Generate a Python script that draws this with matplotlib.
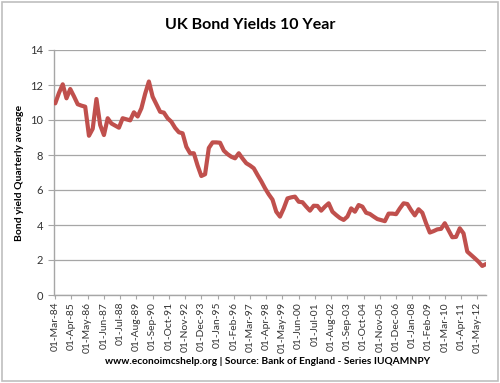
import matplotlib
matplotlib.use("Agg")
import matplotlib.pyplot as plt
from matplotlib.patches import Rectangle

plt.rcParams['font.family'] = ['Lato', 'DejaVu Sans']

# Quarterly average 10-year bond yield, Mar-1984 .. Dec-2012 (one value per quarter)
yields = [
    10.95, 11.55, 12.04, 11.24, 11.77, 11.35, 10.90, 10.82, 10.76, 9.10,
    9.50, 11.20, 9.71, 9.14, 10.10, 9.80, 9.68, 9.56, 10.10, 10.04,
    9.98, 10.44, 10.20, 10.67, 11.50, 12.20, 11.33, 10.90, 10.47, 10.42,
    10.10, 9.90, 9.55, 9.30, 9.24, 8.47, 8.10, 8.10, 7.40, 6.80,
    6.90, 8.40, 8.72, 8.72, 8.70, 8.25, 8.05, 7.90, 7.81, 8.10,
    7.80, 7.53, 7.40, 7.24, 6.86, 6.50, 6.10, 5.75, 5.45, 4.76,
    4.48, 4.95, 5.52, 5.58, 5.62, 5.33, 5.30, 5.05, 4.82, 5.10,
    5.09, 4.82, 5.05, 5.24, 4.76, 4.57, 4.40, 4.29, 4.48, 4.95,
    4.76, 5.14, 5.05, 4.70, 4.63, 4.48, 4.34, 4.28, 4.22, 4.65,
    4.65, 4.62, 4.95, 5.24, 5.20, 4.85, 4.55, 4.90, 4.70, 4.10,
    3.57, 3.65, 3.75, 3.78, 4.10, 3.70, 3.30, 3.32, 3.81, 3.52,
    2.48, 2.29, 2.10, 1.90, 1.66, 1.77,
]
# month offset from 01-Mar-84 for each quarterly value
months = [3 * i for i in range(len(yields))]

tick_labels = [
    "01-Mar-84", "01-Apr-85", "01-May-86", "01-Jun-87", "01-Jul-88", "01-Aug-89",
    "01-Sep-90", "01-Oct-91", "01-Nov-92", "01-Dec-93", "01-Jan-95", "01-Feb-96",
    "01-Mar-97", "01-Apr-98", "01-May-99", "01-Jun-00", "01-Jul-01", "01-Aug-02",
    "01-Sep-03", "01-Oct-04", "01-Nov-05", "01-Dec-06", "01-Jan-08", "01-Feb-09",
    "01-Mar-10", "01-Apr-11", "01-May-12",
]
tick_months = [13 * i for i in range(len(tick_labels))]
y_ticks = [0, 2, 4, 6, 8, 10, 12, 14]

fig = plt.figure(figsize=(5.0, 3.83), dpi=100)
fig.patch.set_facecolor("white")
fig.patches.append(Rectangle((0.004, 0.004), 0.992, 0.992, transform=fig.transFigure,
                             fill=False, edgecolor="#BFBFBF", linewidth=1.2))

ax = fig.add_axes([54 / 500, 1 - 295 / 383, (486 - 54) / 500, (295 - 50) / 383])
ax.plot(months, yields, color="#C0504D", linewidth=3.0, solid_joinstyle="round",
        solid_capstyle="round", zorder=3)

ax.set_xlim(-1, 345)
ax.set_ylim(0, 14)
ax.set_yticks(y_ticks)
ax.set_yticklabels([str(v) for v in y_ticks], fontsize=8, color="#333333")
ax.set_xticks(tick_months)
ax.set_xticklabels(tick_labels, rotation=90, fontsize=7.4, color="#333333")
ax.grid(axis="y", color="#A6A6A6", linewidth=0.9)
ax.set_axisbelow(True)
for s in ["top", "right"]:
    ax.spines[s].set_visible(False)
for s in ["left", "bottom"]:
    ax.spines[s].set_color("#A6A6A6")
    ax.spines[s].set_linewidth(1.0)
ax.tick_params(axis="y", length=4, color="#A6A6A6", pad=4)
ax.tick_params(axis="x", length=3, color="#A6A6A6", pad=2)

ax.set_ylabel("Bond yield Quarterly average", fontsize=7.5, fontweight="bold")
ax.yaxis.set_label_coords(-(54 - 24) / 432, 0.5)

fig.text(0.5, 1 - 25 / 383, "UK Bond Yields 10 Year", ha="center", va="center",
         fontsize=11.5, fontweight="bold")
fig.text(268 / 500, 1 - 362 / 383,
         "www.econoimcshelp.org | Source: Bank of England - Series IUQAMNPY",
         ha="center", va="center", fontsize=7.3, fontweight="bold")

fig.savefig("out.png", dpi=100, facecolor="white")
